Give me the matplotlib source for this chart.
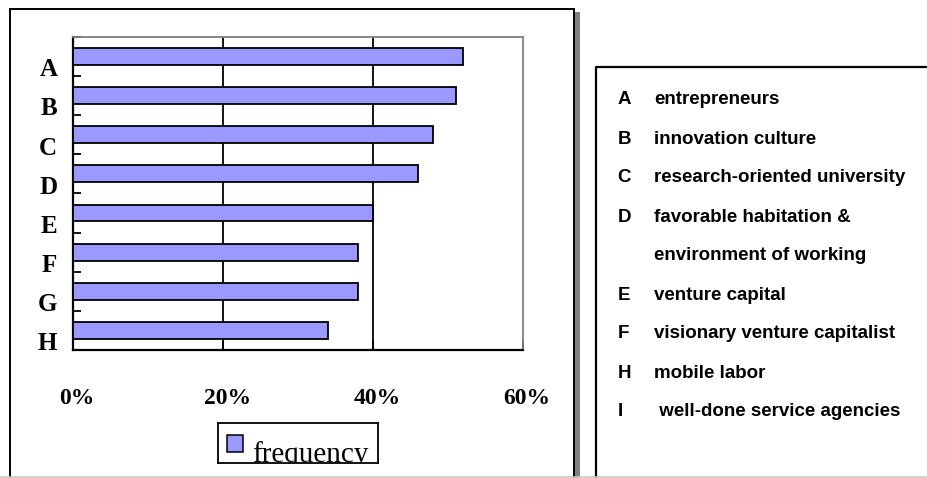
import matplotlib
matplotlib.use('Agg')
import matplotlib.pyplot as plt
from matplotlib.patches import Rectangle
from matplotlib.lines import Line2D
from matplotlib.transforms import ScaledTranslation

# chart data
categories = ['A', 'B', 'C', 'D', 'E', 'F', 'G', 'H']
frequency = [52, 51, 48, 46, 40, 38, 38, 34]
x_ticks = [0, 20, 40, 60]
series_name = 'frequency'

# key on the right
key_letters = ['A', 'B', 'C', 'D', '', 'E', 'F', 'H', 'I']
key_texts = ['entrepreneurs', 'innovation culture', 'research-oriented university',
             'favorable habitation &', 'environment of working', 'venture capital',
             'visionary venture capitalist', 'mobile labor', ' well-done service agencies']

W, H = 927, 478
fig = plt.figure(figsize=(W / 100, H / 100), dpi=100)
serif = ['Liberation Serif', 'DejaVu Serif']
sans = ['Liberation Sans', 'DejaVu Sans']


def fx(px):
    return px / W


def fy(py):
    return 1 - py / H


# panel frames
fig.add_artist(Rectangle((fx(575), fy(480)), 5 / W, (480 - 12) / H, transform=fig.transFigure,
                         fc='#808080', ec='none'))
fig.add_artist(Rectangle((fx(10), fy(480)), (573.7 - 10) / W, (480 - 9) / H, transform=fig.transFigure,
                         fill=False, ec='black', lw=1.4))
fig.add_artist(Line2D([fx(595.5), fx(595.5), fx(930)], [fy(480), fy(67), fy(67)],
                      transform=fig.transFigure, color='black', lw=1.6))
fig.add_artist(Line2D([0, 1], [fy(476.8), fy(476.8)], transform=fig.transFigure,
                      color='#c8c8c8', lw=1.2))

# bar chart
ax = fig.add_axes([fx(73.3), fy(350), (523.3 - 73.3) / W, (350 - 36.7) / H])
pos = list(range(len(categories)))
bars = ax.barh(pos, frequency, height=0.43, color='#9999ff', edgecolor='black', linewidth=1.3, zorder=3)
for t in x_ticks[1:-1]:
    ax.axvline(t, color='black', lw=1.3, zorder=1)
ax.set_xlim(x_ticks[0], x_ticks[-1])
ax.set_ylim(len(categories) - 0.5, -0.5)

for s in ['left', 'bottom']:
    ax.spines[s].set_color('black')
    ax.spines[s].set_linewidth(1.6)
for s in ['top', 'right']:
    ax.spines[s].set_color('#808080')
    ax.spines[s].set_linewidth(1.3)

ax.set_xticks(x_ticks, [f'{t}%' for t in x_ticks])
ax.set_yticks(pos, categories)
ax.set_yticks([p - 0.5 for p in pos], minor=True)
ax.tick_params(axis='x', direction='in', length=6.5, width=1.3, pad=27, labelsize=17)
ax.tick_params(axis='y', which='major', length=0, pad=11.5, labelsize=18)
ax.tick_params(axis='y', which='minor', direction='in', length=6, width=1.3)
for lab in ax.get_xticklabels():
    lab.set_family(serif)
    lab.set_fontweight('bold')
    lab.set_transform(lab.get_transform() + ScaledTranslation(0.04, 0, fig.dpi_scale_trans))
for lab in ax.get_yticklabels():
    lab.set_family(serif)
    lab.set_fontweight('bold')
    lab.set_transform(lab.get_transform() + ScaledTranslation(0, -0.11, fig.dpi_scale_trans))

# legend box (text clipped by the frame like the original)
lax = fig.add_axes([fx(217.7), fy(463.3), (378.3 - 217.7) / W, 40 / H])
lax.set_xticks([])
lax.set_yticks([])
for s in lax.spines.values():
    s.set_linewidth(1.3)
lw_ = 378.3 - 217.7
lax.add_patch(Rectangle((9 / lw_, 11.6 / 40), 16 / lw_, 16.7 / 40, transform=lax.transAxes,
                        fc=bars.patches[0].get_facecolor(), ec='black', lw=1.1))
lax.text(34 / lw_, 0.045, series_name, transform=lax.transAxes, fontsize=21, family=serif,
         va='baseline', clip_on=True)

# key text on the right
for i, (letter, txt) in enumerate(zip(key_letters, key_texts)):
    y = fy(100 + 39 * i)
    if letter:
        fig.text(fx(617.7), y, letter, fontsize=13.5, fontweight='bold', family=sans, va='center')
    fig.text(fx(654), y, txt, fontsize=13.5, fontweight='bold', family=sans, va='center')

fig.savefig('out.png', dpi=100)
